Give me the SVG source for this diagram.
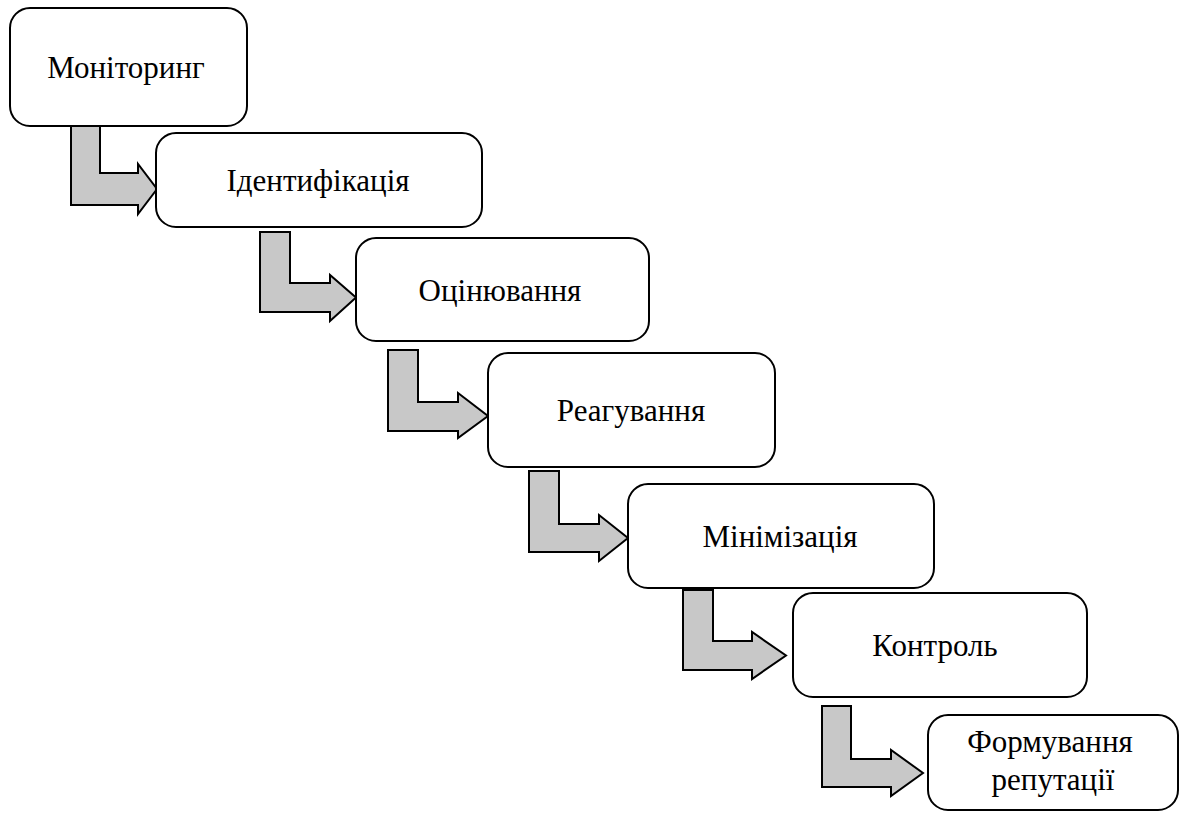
<svg xmlns="http://www.w3.org/2000/svg" width="1185" height="816" viewBox="0 0 1185 816">
<style>
.box{fill:#fff;stroke:#000;stroke-width:2}
.arr{fill:#c8c8c8;stroke:#000;stroke-width:2;stroke-linejoin:miter}
.t{font-family:'Liberation Serif','Times New Roman',serif;font-size:31px;fill:#000;text-anchor:middle}
</style>
<rect width="1185" height="816" fill="#fff"/>
<g id="connectors">
<polygon class="arr" points="71,126 100,126 100,173 138,173 138,164 157,189 138,214 138,205 71,205"/>
<polygon class="arr" points="260,232 290,232 290,283 330,283 330,275 356,297.5 330,321 330,312 260,312"/>
<polygon class="arr" points="388,350 418,350 418,402 458,402 458,393 488,416 458,438 458,431 388,431"/>
<polygon class="arr" points="529,471 559,471 559,524 599,524 599,515 628,538 599,561 599,552 529,552"/>
<polygon class="arr" points="683,590 713,590 713,641 752,641 752,632 786,655.5 752,679 752,670 683,670"/>
<polygon class="arr" points="822,706 851,706 851,759 891,759 891,750 923,773 891,796 891,787 822,787"/>
</g>
<g id="n1"><rect class="box" x="10" y="8" width="237" height="118" rx="20"/><text class="t" x="126" y="78">Моніторинг</text></g>
<g id="n2"><rect class="box" x="156" y="133" width="326" height="94" rx="20"/><text class="t" x="318" y="191">Ідентифікація</text></g>
<g id="n3"><rect class="box" x="356" y="238" width="293" height="103" rx="20"/><text class="t" x="500" y="301">Оцінювання</text></g>
<g id="n4"><rect class="box" x="488" y="353" width="287" height="114" rx="20"/><text class="t" x="631" y="421">Реагування</text></g>
<g id="n5"><rect class="box" x="628" y="484" width="306" height="104" rx="20"/><text class="t" x="780" y="547">Мінімізація</text></g>
<g id="n6"><rect class="box" x="793" y="593" width="294" height="104" rx="20"/><text class="t" x="935" y="656">Контроль</text></g>
<g id="n7"><rect class="box" x="928" y="715" width="250" height="95" rx="20"/><text class="t" x="1050" y="752">Формування</text><text class="t" x="1053" y="790">репутації</text></g>
</svg>
